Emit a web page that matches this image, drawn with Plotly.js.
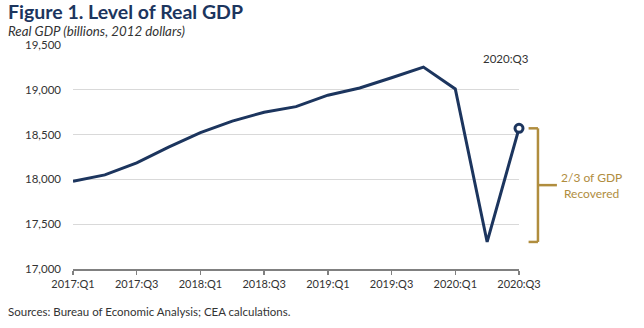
<!DOCTYPE html>
<html>
<head>
<meta charset="utf-8">
<script src="https://cdn.plot.ly/plotly-3.0.1.min.js"></script>
<style>
html,body{margin:0;padding:0;background:#fff;}
#chart{width:644px;height:328px;}
</style>
</head>
<body>
<div id="chart"></div>
<script>
const quarters = ["2017:Q1","2017:Q2","2017:Q3","2017:Q4","2018:Q1","2018:Q2","2018:Q3","2018:Q4",
                  "2019:Q1","2019:Q2","2019:Q3","2019:Q4","2020:Q1","2020:Q2","2020:Q3"];
const realGDP = [17980, 18050, 18185, 18360, 18522, 18650, 18750, 18812,
                 18940, 19020, 19135, 19253, 19010, 17302, 18570];
const tickLabels = ["2017:Q1","2017:Q3","2018:Q1","2018:Q3","2019:Q1","2019:Q3","2020:Q1","2020:Q3"];
const yTicks = [17000, 17500, 18000, 18500, 19000, 19500];

const navy = "#1c355e";
const gold = "#b08d3e";
const font = "Lato, 'Open Sans', sans-serif";

const last = realGDP[realGDP.length - 1];
const trough = Math.min(...realGDP);
const mid = (last + trough) / 2;

const traces = [
  {
    x: quarters, y: realGDP, type: "scatter", mode: "lines",
    line: {color: navy, width: 3}, hoverinfo: "skip", showlegend: false, cliponaxis: false
  },
  {
    x: [quarters[quarters.length - 1]], y: [last], type: "scatter", mode: "markers",
    marker: {color: "#ffffff", size: 8, line: {color: navy, width: 3}},
    hoverinfo: "skip", showlegend: false, cliponaxis: false
  }
];

const bx = 1.0425, bxL = 1.0215, bxR = 1.085;
const layout = {
  width: 644, height: 328,
  margin: {l: 73, r: 125, t: 45, b: 59},
  paper_bgcolor: "#fff", plot_bgcolor: "#fff",
  font: {family: font, size: 11, color: "#333"},
  xaxis: {
    type: "category", range: [0, quarters.length - 1],
    tickmode: "array", tickvals: tickLabels, ticktext: tickLabels,
    showgrid: false, showline: true, linecolor: "#808080", linewidth: 1.5,
    ticks: "outside", ticklen: 4, tickcolor: "#808080", tickwidth: 1.5,
    tickfont: {family: font, size: 11, color: "#333"}, zeroline: false, automargin: false
  },
  yaxis: {
    range: [17000, 19500], tickmode: "array", tickvals: yTicks,
    tickformat: ",d", showline: false, zeroline: false,
    showgrid: true, gridcolor: "#d9d9d9", gridwidth: 1,
    ticks: "", ticklabelstandoff: 11,
    tickfont: {family: font, size: 11.5, color: "#333"}, automargin: false
  },
  annotations: [
    {xref: "paper", yref: "paper", x: -0.1505, y: 1.15, xanchor: "left", yanchor: "middle",
     text: "<b>Figure 1. Level of Real GDP</b>", showarrow: false,
     font: {family: font, size: 19.5, color: navy}},
    {xref: "paper", yref: "paper", x: -0.1505, y: 1.063, xanchor: "left", yanchor: "middle",
     text: "<i>Real GDP (billions, 2012 dollars)</i>", showarrow: false,
     font: {family: font, size: 13.3, color: "#333"}},
    {xref: "x", yref: "y", x: quarters.length - 1, y: 19344, xshift: -13, xanchor: "center", yanchor: "middle",
     text: "2020:Q3", showarrow: false, font: {family: font, size: 11.5, color: "#333"}},
    {xref: "paper", yref: "y", x: 1.163, y: mid, xanchor: "center", yanchor: "middle",
     text: "2/3 of GDP<br>Recovered", showarrow: false, align: "center",
     font: {family: font, size: 12, color: gold}},
    {xref: "paper", yref: "paper", x: -0.1505, y: -0.19, xanchor: "left", yanchor: "middle",
     text: "Sources: Bureau of Economic Analysis; CEA calculations.", showarrow: false,
     font: {family: font, size: 11.5, color: "#333"}}
  ],
  shapes: [
    {type: "line", xref: "paper", yref: "y", x0: bx, x1: bx, y0: trough, y1: last,
     line: {color: gold, width: 2.5}},
    {type: "line", xref: "paper", yref: "y", x0: bxL, x1: bx, y0: last, y1: last,
     line: {color: gold, width: 2.5}},
    {type: "line", xref: "paper", yref: "y", x0: bxL, x1: bx, y0: trough, y1: trough,
     line: {color: gold, width: 2.5}},
    {type: "line", xref: "paper", yref: "y", x0: bx, x1: bxR, y0: mid, y1: mid,
     line: {color: gold, width: 2.5}}
  ]
};

Plotly.newPlot("chart", traces, layout, {displayModeBar: false, staticPlot: true});
</script>
</body>
</html>
